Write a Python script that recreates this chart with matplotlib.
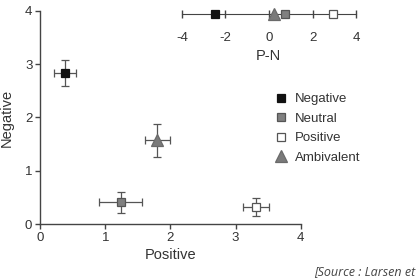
import matplotlib.pyplot as plt
from matplotlib.lines import Line2D

plt.rcParams['font.family'] = ['Liberation Sans', 'DejaVu Sans']
plt.rcParams['axes.unicode_minus'] = False

# Data
conditions = ["Negative", "Neutral", "Positive", "Ambivalent"]
positive = [0.38, 1.24, 3.31, 1.80]
negative = [2.83, 0.41, 0.32, 1.57]
positive_err = [0.17, 0.33, 0.20, 0.19]
negative_err = [0.24, 0.20, 0.17, 0.31]
p_minus_n = [-2.48, 0.74, 2.94, 0.23]
pn_ticks = [-4, -2, 0, 2, 4]

markers = ["s", "s", "s", "^"]
faces = ["#111111", "#808080", "white", "#7a7a7a"]
edges = ["#111111", "#555555", "#555555", "#6a6a6a"]
sizes = [6, 6, 6, 9]
axis_col = "#444444"
text_col = "#333333"

fig = plt.figure(figsize=(4.18, 2.79), dpi=100)
ax = fig.add_axes([0.0957, 0.197, 0.624, 0.764])

for i, name in enumerate(conditions):
    ax.errorbar(positive[i], negative[i], xerr=positive_err[i], yerr=negative_err[i],
                fmt="none", ecolor="#555555", elinewidth=0.9, capsize=3, capthick=0.9, zorder=2)
    ax.plot(positive[i], negative[i], marker=markers[i], ms=sizes[i], mfc=faces[i],
            mec=edges[i], mew=0.9, ls="none", zorder=3)

ax.set_xlim(0, 4)
ax.set_ylim(0, 4)
ax.set_xticks([0, 1, 2, 3, 4])
ax.set_yticks([0, 1, 2, 3, 4])
for s in ["top", "right"]:
    ax.spines[s].set_visible(False)
for s in ["left", "bottom"]:
    ax.spines[s].set_color(axis_col)
    ax.spines[s].set_linewidth(1.0)
ax.tick_params(direction="out", length=3.5, width=1.0, color=axis_col,
               labelsize=9.5, labelcolor=text_col, pad=2)
ax.set_xlabel("Positive", fontsize=10.5, color=text_col, labelpad=3)
ax.set_ylabel("Negative", fontsize=10.5, color=text_col, labelpad=8)

handles = [Line2D([], [], marker=markers[i], ms=sizes[i], mfc=faces[i], mec=edges[i],
                  mew=0.9, ls="none") for i in range(len(conditions))]
fig.legend(handles, conditions, loc="upper left", bbox_to_anchor=(0.64, 0.69),
           frameon=False, fontsize=9.5, handlelength=1.0, handletextpad=0.6,
           labelspacing=0.55, borderpad=0, labelcolor=text_col)

# Inset P-N axis
ax2 = fig.add_axes([0.435, 0.90, 0.417, 0.10])
ax2.set_xlim(-4, 4)
ax2.set_ylim(-1, 1)
ax2.patch.set_visible(False)
for s in ["top", "right", "left"]:
    ax2.spines[s].set_visible(False)
ax2.spines["bottom"].set_position(("data", 0))
ax2.spines["bottom"].set_color(axis_col)
ax2.set_yticks([])
ax2.set_xticks(pn_ticks)
ax2.tick_params(axis="x", direction="inout", length=6, width=1.0, color=axis_col,
                labelsize=9.5, labelcolor=text_col, pad=10)
for i, name in enumerate(conditions):
    ax2.plot(p_minus_n[i], 0, marker=markers[i], ms=sizes[i], mfc=faces[i],
             mec=edges[i], mew=0.9, ls="none", clip_on=False, zorder=3)
fig.text(0.643, 0.80, "P-N", ha="center", va="center", fontsize=10.5, color=text_col)

fig.text(0.752, 0.005, "[Source : Larsen et", fontsize=9, style="italic",
         color="#444444", family=["Open Sans", "DejaVu Sans"], ha="left", va="bottom")

fig.savefig("out.png", dpi=100)
